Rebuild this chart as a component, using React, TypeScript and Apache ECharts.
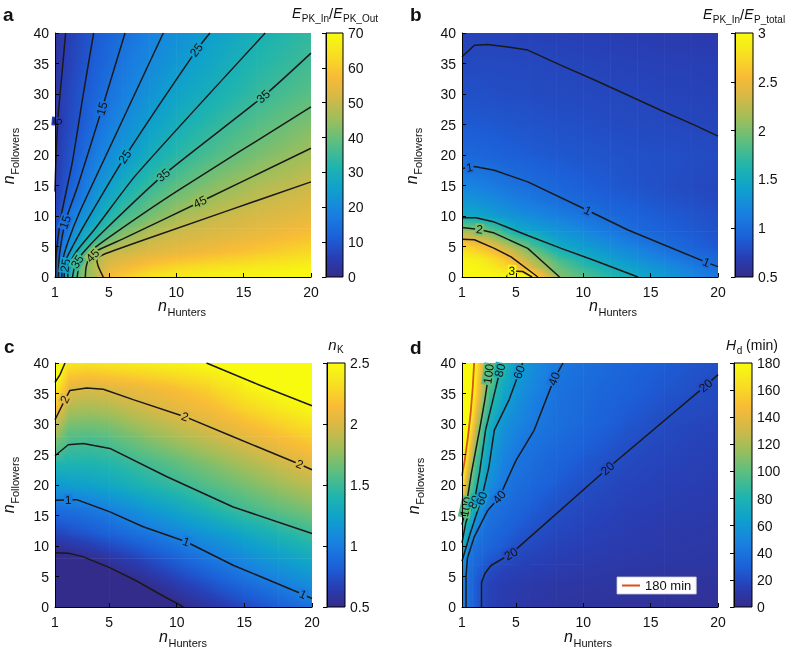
import React, { useEffect, useRef } from 'react';
import * as echarts from 'echarts';

const FF = '"Liberation Sans", Arial, Helvetica, sans-serif';

// ---------- Panel a : E_PK_In / E_PK_Out ----------
const A_X = [1, 1.5, 2, 3, 4, 5, 6, 8, 10, 13, 16, 20];
const A_Y = [0, 1, 2, 4, 6, 8, 10, 13, 16, 20, 25, 30, 35, 40];
const A_Z = [
  [9, 20, 30.7, 42.9, 47.8, 57, 60.5, 65, 66.5, 68, 69, 70],
  [8.5, 19.4, 30.4, 42, 48.3, 55.5, 57.8, 62, 64.5, 66.5, 67.5, 69],
  [8, 18.6, 28.6, 41.6, 48.8, 52.3, 55, 59, 61.5, 63.5, 65, 67.5],
  [7, 16.8, 23.9, 34, 45.4, 50.1, 51, 53, 55, 57.5, 60, 63],
  [6.8, 15, 20, 28.2, 35.3, 41.3, 45.6, 50.4, 51.9, 54.3, 56.5, 60],
  [6.5, 11.2, 17.4, 24.6, 30, 35.5, 40, 45.9, 49.8, 51.7, 53.7, 57],
  [6, 10.4, 16, 21.7, 26.1, 31.5, 35.6, 41.3, 45.5, 50.1, 52, 54.5],
  [5.2, 8.3, 11.9, 16.9, 23.2, 27.4, 31.2, 36.9, 41.6, 45.5, 49.2, 52],
  [4.9, 7.4, 9.9, 15.3, 20.2, 24.2, 27.5, 33.2, 37.3, 42.4, 45.9, 49.6],
  [4.3, 6.6, 8.6, 13, 17.3, 20.7, 23.4, 28.8, 32.8, 37.7, 41.6, 46.2],
  [3.5, 5.8, 7.4, 10.5, 14.6, 17.6, 20.4, 25.1, 29.2, 33.8, 37.9, 42.4],
  [2.8, 5.5, 6.8, 9.8, 12.6, 15.4, 17.8, 22.3, 26.1, 30.2, 34.2, 38.5],
  [2.3, 4.6, 6.1, 8.7, 11.3, 13.7, 16.2, 20, 23.6, 27.9, 32.1, 35.8],
  [2, 4.2, 5.5, 7.9, 10.3, 12.4, 14.6, 18.3, 21.4, 25.6, 29.9, 34],
];
const A_C5 = [[1.79, 40], [1.5, 33], [1.2, 25.5], [1.05, 18], [1.0, 14]];
const A_C10 = [[3.87, 40], [3.1, 30], [2.3, 19], [1.5, 10.5], [1.2, 6], [1.08, 3], [1.05, 0]];
const A_C15 = [[6.2, 40], [4.49, 27.6], [2.7, 15], [1.75, 9], [1.45, 5.5], [1.3, 3], [1.25, 0]];
const A_C20 = [[9.04, 40], [4.8, 20], [2.8, 10.5], [2.0, 6], [1.6, 3], [1.5, 0]];
const A_C25 = [[12.5, 40], [11.5, 37.2], [6.19, 19.7], [3.3, 9], [2.3, 5], [1.85, 3], [1.7, 1], [1.68, 0]];
const A_C30 = [[16.6, 40], [7.0, 16.7], [4.0, 8], [2.7, 4.5], [2.15, 2.5], [1.97, 1], [1.95, 0]];
const A_C35 = [[20, 36.7], [16.46, 29.6], [9.04, 16.7], [4.6, 7.5], [3.1, 4], [2.5, 2], [2.3, 0]];
const A_C40 = [[20, 27.9], [10, 14], [5, 6.5], [3.3, 3.6], [2.8, 2], [2.65, 0]];
const A_C45 = [[20, 21.1], [11.76, 12.3], [6, 6.2], [4.0, 4.2], [3.55, 3.2], [3.3, 1.5], [3.25, 0]];
const A_C50 = [[20, 15.6], [8, 6.4], [4.6, 3.7], [4.1, 3.0], [4.2, 1.8], [4.58, 0]];
const A_LABELS = [
  [1.2, 25.5, 5], [4.49, 27.6, 15], [1.75, 9, 15], [6.19, 19.7, 25], [11.5, 37.2, 25],
  [1.77, 1.9, 25], [9.04, 16.7, 35], [16.46, 29.6, 35], [2.65, 2.5, 35], [11.76, 12.3, 45], [3.8, 3.5, 45],
];

// ---------- Panel b : E_PK_In / E_P_total ----------
const B_X = [1, 2, 3, 4, 5, 6, 8, 10, 12, 14, 16, 18, 20];
const B_Y = [0, 1.5, 3, 5, 7.5, 10, 12.5, 15, 20, 25, 30, 35, 40];
const B_Z = [
  [2.95, 2.98, 2.98, 2.97, 3.05, 3.01, 2.07, 1.85, 1.68, 1.5, 1.36, 1.22, 1.08],
  [2.97, 2.96, 2.9, 2.8, 2.65, 2.43, 1.95, 1.74, 1.53, 1.39, 1.27, 1.14, 1.02],
  [2.93, 2.9, 2.8, 2.65, 2.45, 2.19, 1.83, 1.56, 1.4, 1.28, 1.15, 1.03, 0.96],
  [2.75, 2.62, 2.51, 2.32, 2.12, 1.91, 1.5, 1.38, 1.26, 1.14, 1.02, 0.93, 0.86],
  [2.16, 2.08, 1.97, 1.74, 1.52, 1.45, 1.33, 1.21, 1.09, 0.98, 0.92, 0.87, 0.82],
  [1.48, 1.47, 1.39, 1.34, 1.29, 1.24, 1.15, 1.06, 0.98, 0.93, 0.88, 0.84, 0.8],
  [1.32, 1.3, 1.25, 1.19, 1.14, 1.1, 1.02, 0.96, 0.91, 0.87, 0.83, 0.8, 0.77],
  [1.18, 1.16, 1.12, 1.08, 1.04, 1.01, 0.95, 0.9, 0.86, 0.83, 0.8, 0.77, 0.75],
  [0.97, 0.96, 0.94, 0.92, 0.9, 0.88, 0.86, 0.84, 0.83, 0.81, 0.8, 0.79, 0.78],
  [0.87, 0.87, 0.86, 0.85, 0.84, 0.83, 0.81, 0.8, 0.78, 0.77, 0.76, 0.75, 0.74],
  [0.81, 0.81, 0.8, 0.79, 0.79, 0.78, 0.77, 0.76, 0.755, 0.75, 0.74, 0.73, 0.72],
  [0.765, 0.77, 0.77, 0.765, 0.76, 0.76, 0.75, 0.74, 0.73, 0.72, 0.71, 0.705, 0.7],
  [0.72, 0.73, 0.73, 0.73, 0.72, 0.72, 0.71, 0.7, 0.69, 0.68, 0.67, 0.665, 0.66],
];
const B_C075 = [[1, 36.1], [1.92, 38], [2.91, 38.1], [4.39, 37.7], [5.88, 37.2], [8.36, 34.7], [10.84, 32.3], [13.32, 29.8], [15.79, 27.3], [18.27, 24.9], [20, 23.1]];
const B_C1 = [[1, 17.8], [1.92, 18.1], [3.4, 17.5], [5.88, 15.6], [10.34, 10.9], [13.32, 7.7], [19.14, 2.4], [20, 1.7]];
const B_C15 = [[1, 9.7], [2.04, 9.7], [3.4, 9.0], [5.88, 6.8], [8.36, 4.7], [10.84, 2.7], [14.06, 0]];
const B_C2 = [[1, 8.1], [2.29, 7.8], [3.4, 7.2], [5.88, 4.7], [8.24, 0]];
const B_C25 = [[1, 6.2], [1.92, 6.1], [3.4, 4.7], [4.64, 3.3], [6.63, 0]];
const B_C3 = [[4.3, 0], [4.6, 1.0], [5.5, 0.9], [6.2, 0]];
const B_LABELS = [[1.55, 17.95, 1], [10.34, 10.9, 1], [19.14, 2.4, 1], [2.29, 7.8, 2], [4.7, 1.0, 3]];

// ---------- Panel c : n_K ----------
const C_X = [1, 2, 3.5, 5, 7.5, 10, 12.5, 15, 17.5, 20];
const C_Y = [0, 4, 8, 12, 16, 20, 24, 28, 32, 36, 40];
const C_Z = [
  [0.1, 0.12, 0.18, 0.25, 0.36, 0.48, 0.59, 0.7, 0.82, 0.93],
  [0.26, 0.29, 0.35, 0.41, 0.51, 0.65, 0.77, 0.9, 1.01, 1.12],
  [0.45, 0.47, 0.51, 0.585, 0.71, 0.84, 0.97, 1.09, 1.2, 1.31],
  [0.68, 0.72, 0.78, 0.84, 0.94, 1.05, 1.16, 1.27, 1.39, 1.5],
  [0.91, 0.93, 0.96, 1.02, 1.15, 1.27, 1.4, 1.52, 1.61, 1.7],
  [1.17, 1.2, 1.24, 1.28, 1.39, 1.48, 1.58, 1.68, 1.79, 1.89],
  [1.45, 1.42, 1.41, 1.44, 1.53, 1.63, 1.74, 1.85, 1.96, 2.07],
  [1.77, 1.58, 1.57, 1.6, 1.73, 1.84, 1.94, 2.04, 2.15, 2.26],
  [2.11, 1.81, 1.79, 1.82, 1.93, 2.02, 2.11, 2.24, 2.35, 2.45],
  [2.47, 2.04, 2.0, 2.03, 2.1, 2.17, 2.27, 2.43, 2.53, 2.6],
  [2.65, 2.38, 2.35, 2.38, 2.42, 2.45, 2.51, 2.58, 2.64, 2.7],
];
const C_C05 = [[1, 8.9], [2, 8.8], [3, 8.3], [5, 6.5], [7, 4.3], [9, 1.8], [10.5, 0]];
const C_C1 = [[1, 17.5], [2.6, 17.6], [5.06, 15.6], [7.52, 13.15], [10.7, 10.7], [14.17, 6.85], [19.09, 2.3], [20, 1.4]];
const C_C15 = [[1, 24.8], [1.98, 26.6], [3.09, 26.8], [5.06, 26], [9.24, 21.4], [14.17, 16.4], [20, 12.05]];
const C_C2 = [[1, 30.7], [1.74, 34], [2.1, 35.5], [3.34, 35.9], [4.57, 35.7], [6.78, 34], [10.6, 31.2], [14.17, 27.9], [19.09, 23.4], [20, 22.5]];
const C_C25A = [[1, 36.8], [1.37, 38.1], [1.74, 40]];
const C_C25B = [[12.2, 40], [16.1, 36.4], [20, 33]];
const C_LABELS = [[1.74, 34, 2], [10.6, 31.2, 2], [19.09, 23.4, 2], [1.98, 17.55, 1], [10.7, 10.7, 1], [19.33, 2.06, 1]];

// ---------- Panel d : H_d (min) ----------
const D_X = [1, 1.25, 1.5, 1.75, 2, 2.5, 3, 4, 5, 6, 8, 10, 13, 16, 20];
const D_Y = [0, 4, 7, 10, 13, 16, 20, 25, 30, 35, 40];
const D_Z = [
  [48, 41, 36.5, 32, 27.5, 19.3, 15.5, 12.5, 10.5, 9, 7.5, 6.5, 5.5, 5, 4.5],
  [50, 41.5, 36.5, 32, 27.8, 19.6, 16.5, 13.5, 12, 11, 9.5, 8.5, 7.5, 7, 6.5],
  [58, 46, 38.7, 36.1, 33.5, 28.3, 23.1, 18.5, 16.5, 15, 13, 11.5, 10, 9, 8],
  [78, 64, 50.6, 39.7, 38.3, 35.5, 32.7, 27.2, 21.7, 19, 16, 14, 12, 10.5, 9.5],
  [97, 78.5, 69.6, 60, 50.2, 39, 36.8, 32.4, 28, 23.6, 19, 16.5, 13.5, 11.5, 10],
  [125, 100.5, 88.6, 77.3, 67.7, 52.3, 39.9, 36.2, 32.5, 28.8, 21.4, 18.5, 15, 13, 11],
  [170, 139, 107.5, 93.4, 84.8, 66.7, 55.7, 42.4, 37.4, 34.1, 27.7, 21.3, 17.5, 15, 12.5],
  [195, 181, 153, 124, 99.5, 79.6, 64, 51.9, 41.7, 38.1, 32.9, 27.8, 20, 17.5, 14.5],
  [200, 194, 183, 160, 135, 94, 76.1, 57.4, 50.7, 44, 37.6, 33.8, 25.9, 19.6, 16.5],
  [192, 190, 187, 182, 165.5, 123, 92.8, 70.6, 57.5, 50.1, 38.8, 35.2, 29.8, 24.3, 19],
  [195, 193, 190, 185, 173.3, 140, 106.7, 79.4, 66.5, 57.1, 43.3, 37.6, 32.8, 28, 21.6],
];
const D_C180 = [[1, 21.5], [1.2, 24], [1.45, 28], [1.65, 32], [1.8, 36], [1.9, 40]];
const D_C100 = [[1, 13.5], [1.3, 16.4], [1.7, 22], [2.3, 29], [2.7, 34], [3.1, 40]];
const D_C80 = [[1, 10.5], [1.3, 14], [1.91, 17.2], [2.3, 22], [2.75, 29], [3.3, 34], [3.95, 40]];
const D_C60 = [[1, 7.5], [1.6, 12], [2.46, 17.8], [3.0, 23], [3.4, 29], [4.5, 34], [5.5, 40]];
const D_C40 = [[1.3, 0], [1.3, 5], [1.4, 8], [1.91, 11.5], [2.9, 15.8], [3.77, 18], [5.0, 24], [6.36, 29], [7.84, 37.4], [8.5, 40]];
const D_C20 = [[2.45, 0], [2.45, 4], [2.7, 5.5], [3.15, 6.8], [4.63, 8.7], [11.8, 22.7], [19.09, 36.3], [20, 38.1]];
const D_LABELS = [
  [2.98, 38.2, 100], [3.82, 38.8, 80], [5.25, 38.5, 60], [7.84, 37.4, 40], [19.09, 36.3, 20],
  [1.3, 16.4, 100], [1.91, 17.2, 80], [2.46, 17.8, 60], [3.77, 18, 40], [4.63, 8.7, 20], [11.8, 22.7, 20],
];

const X_TICKS = [1, 5, 10, 15, 20];

// colormap stops [position, r, g, b]
const CMAP: number[][] = [
  [0.0, 52, 44, 138],
  [0.08, 40, 62, 180],
  [0.16, 28, 95, 215],
  [0.26, 25, 128, 225],
  [0.36, 15, 160, 205],
  [0.45, 30, 180, 175],
  [0.55, 90, 190, 130],
  [0.65, 160, 190, 90],
  [0.74, 215, 185, 70],
  [0.82, 248, 187, 55],
  [0.9, 248, 218, 36],
  [0.95, 246, 236, 26],
  [1.0, 249, 251, 14],
];

function parula(t: number) {
  const tt = Math.max(0, Math.min(1, t));
  let i = 0;
  while (i < CMAP.length - 2 && tt > CMAP[i + 1][0]) i++;
  const a = CMAP[i], b = CMAP[i + 1];
  const f = (tt - a[0]) / (b[0] - a[0]);
  const c = [1, 2, 3].map((k) => Math.round(a[k] + (b[k] - a[k]) * f));
  return `rgb(${c[0]},${c[1]},${c[2]})`;
}

type Contour = { level: number; pts: number[][]; red?: boolean };

const PANELS = [
  {
    xs: A_X, ys: A_Y, z: A_Z, min: 0, max: 70, interval: 10, smooth: 0.2,
    contours: [
      { level: 5, pts: A_C5 }, { level: 10, pts: A_C10 }, { level: 15, pts: A_C15 }, { level: 20, pts: A_C20 },
      { level: 25, pts: A_C25 }, { level: 30, pts: A_C30 }, { level: 35, pts: A_C35 }, { level: 40, pts: A_C40 },
      { level: 45, pts: A_C45 }, { level: 50, pts: A_C50 },
    ] as Contour[],
    labels: A_LABELS,
    plot: { left: 55, top: 33, width: 256, height: 244 },
    cb: { left: 326, top: 33, width: 17, height: 244 },
  },
  {
    xs: B_X, ys: B_Y, z: B_Z, min: 0.5, max: 3, interval: 0.5, smooth: false,
    contours: [
      { level: 0.75, pts: B_C075 }, { level: 1, pts: B_C1 }, { level: 1.5, pts: B_C15 },
      { level: 2, pts: B_C2 }, { level: 2.5, pts: B_C25 }, { level: 3, pts: B_C3 },
    ] as Contour[],
    labels: B_LABELS,
    plot: { left: 462, top: 33, width: 256, height: 244 },
    cb: { left: 735, top: 33, width: 18, height: 244 },
  },
  {
    xs: C_X, ys: C_Y, z: C_Z, min: 0.5, max: 2.5, interval: 0.5, smooth: false,
    contours: [
      { level: 0.5, pts: C_C05 }, { level: 1, pts: C_C1 }, { level: 1.5, pts: C_C15 },
      { level: 2, pts: C_C2 }, { level: 2.5, pts: C_C25A }, { level: 2.5, pts: C_C25B },
    ] as Contour[],
    labels: C_LABELS,
    plot: { left: 55, top: 363, width: 257, height: 244 },
    cb: { left: 327, top: 363, width: 18, height: 244 },
  },
  {
    xs: D_X, ys: D_Y, z: D_Z, min: 0, max: 180, interval: 20, smooth: false,
    contours: [
      { level: 180, pts: D_C180, red: true }, { level: 100, pts: D_C100 }, { level: 80, pts: D_C80 },
      { level: 60, pts: D_C60 }, { level: 40, pts: D_C40 }, { level: 20, pts: D_C20 },
    ] as Contour[],
    labels: D_LABELS,
    plot: { left: 462, top: 363, width: 256, height: 244 },
    cb: { left: 734, top: 363, width: 18, height: 244 },
  },
];

function buildCells(xs: number[], ys: number[], z: number[][]) {
  const cells: number[][] = [];
  for (let j = 0; j < ys.length - 1; j++) {
    for (let i = 0; i < xs.length - 1; i++) {
      cells.push([xs[i], xs[i + 1], ys[j], ys[j + 1], z[j][i], z[j][i + 1], z[j + 1][i], z[j + 1][i + 1]]);
    }
  }
  return cells;
}

function cellRenderer(min: number, max: number) {
  const norm = (v: number) => (v - min) / (max - min);
  return (params: any, api: any) => {
    const x0 = api.value(0), x1 = api.value(1), y0 = api.value(2), y1 = api.value(3);
    const bl = api.value(4), br = api.value(5), tl = api.value(6), tr = api.value(7);
    const p0 = api.coord([x0, y1]);
    const p1 = api.coord([x1, y0]);
    const gu = (tr - tl + (br - bl)) / 2;
    const gv = (bl - tl + (br - tr)) / 2;
    const m = (tl + tr + bl + br) / 4;
    const g = Math.hypot(gu, gv);
    let fill: any;
    if (g < 1e-9) {
      fill = parula(norm(m));
    } else {
      const du = gu / g, dv = gv / g;
      const half = (Math.abs(gu) + Math.abs(gv)) / 2;
      const hh = half / g;
      const vs = m - half, ve = m + half;
      const stops = [];
      for (let k = 0; k <= 6; k++) {
        const t = k / 6;
        stops.push({ offset: t, color: parula(norm(vs + (ve - vs) * t)) });
      }
      fill = new echarts.graphic.LinearGradient(0.5 - du * hh, 0.5 - dv * hh, 0.5 + du * hh, 0.5 + dv * hh, stops, false);
    }
    return {
      type: 'rect',
      shape: { x: p0[0], y: p0[1], width: p1[0] - p0[0] + 0.6, height: p1[1] - p0[1] + 0.6 },
      style: { fill },
    };
  };
}

function labelRenderer(labels: number[][], contours: Contour[], min: number, max: number) {
  return (params: any, api: any) => {
    const L = labels[api.value(2)];
    const p = api.coord([L[0], L[1]]);
    let best = Infinity;
    let ang = 0;
    contours.filter((c) => c.level === L[2]).forEach((c) => {
      const pts = c.pts.map((q) => api.coord(q));
      for (let i = 0; i < pts.length - 1; i++) {
        const a = pts[i], b = pts[i + 1];
        const dx = b[0] - a[0], dy = b[1] - a[1];
        const len2 = dx * dx + dy * dy || 1;
        let t = ((p[0] - a[0]) * dx + (p[1] - a[1]) * dy) / len2;
        t = Math.max(0, Math.min(1, t));
        const d = Math.hypot(a[0] + t * dx - p[0], a[1] + t * dy - p[1]);
        if (d < best) {
          best = d;
          ang = Math.atan2(-dy, dx);
        }
      }
    });
    if (ang > Math.PI / 2 + 1e-6) ang -= Math.PI;
    if (ang < -Math.PI / 2 + 1e-3) ang += Math.PI;
    return {
      type: 'text',
      x: p[0],
      y: p[1],
      rotation: ang,
      style: {
        text: String(L[2]),
        font: `12px ${FF}`,
        fill: '#111',
        align: 'center',
        verticalAlign: 'middle',
        backgroundColor: parula((L[2] - min) / (max - min)),
        padding: [0, 1],
      },
    };
  };
}

function cbRenderer(min: number, max: number) {
  return (params: any, api: any) => {
    const p0 = api.coord([0, max]);
    const p1 = api.coord([1, min]);
    const stops = CMAP.slice().reverse().map((c) => ({ offset: 1 - c[0], color: `rgb(${c[1]},${c[2]},${c[3]})` }));
    return {
      type: 'rect',
      shape: { x: p0[0], y: p0[1], width: p1[0] - p0[0], height: p1[1] - p0[1] },
      style: { fill: new echarts.graphic.LinearGradient(0, 0, 0, 1, stops, false), stroke: '#000', lineWidth: 1 },
    };
  };
}

let measureCtx: CanvasRenderingContext2D | null = null;
function measure(text: string, font: string) {
  if (!measureCtx) measureCtx = document.createElement('canvas').getContext('2d');
  if (!measureCtx) return text.length * 7;
  measureCtx.font = font;
  return measureCtx.measureText(text).width;
}

type Seg = { t: string; s: number; i?: boolean; b?: boolean; dy?: number };
function mathText(x: number, y: number, segs: Seg[], align: string, rotation = 0) {
  const fonts = segs.map((g) => `${g.i ? 'italic ' : ''}${g.b ? 'bold ' : ''}${g.s}px ${FF}`);
  const widths = segs.map((g, k) => measure(g.t, fonts[k]) + (g.i ? 0.5 : 0));
  const total = widths.reduce((a, b) => a + b, 0);
  let cur = align === 'center' ? -total / 2 : align === 'right' ? -total : 0;
  const children = segs.map((g, k) => {
    const el = {
      type: 'text',
      x: cur,
      y: g.dy || 0,
      style: { text: g.t, font: fonts[k], fill: '#111', align: 'left', verticalAlign: 'middle' },
    };
    cur += widths[k];
    return el;
  });
  return { type: 'group', x, y, rotation, children };
}

export default function App() {
  const ref = useRef<HTMLDivElement>(null);
  useEffect(() => {
    if (!ref.current) return;
    const chart = echarts.init(ref.current, undefined, { renderer: 'svg' });
    const grid: any[] = [];
    const xAxis: any[] = [];
    const yAxis: any[] = [];
    const series: any[] = [];
    PANELS.forEach((P, k) => {
      const gi = k * 2;
      grid.push({ ...P.plot, containLabel: false });
      grid.push({ ...P.cb, containLabel: false });
      xAxis.push({
        type: 'value', gridIndex: gi, min: 1, max: 20, z: 10,
        axisLine: { show: true, onZero: false, lineStyle: { color: '#000', width: 1 } },
        axisTick: { show: true, inside: true, length: 4, customValues: X_TICKS, lineStyle: { color: '#000' } },
        axisLabel: { customValues: X_TICKS, fontSize: 14, color: '#111', margin: 8, fontFamily: FF },
        splitLine: { show: false },
      });
      yAxis.push({
        type: 'value', gridIndex: gi, min: 0, max: 40, interval: 5, z: 10,
        axisLine: { show: true, onZero: false, lineStyle: { color: '#000', width: 1 } },
        axisTick: { show: true, inside: true, length: 4, lineStyle: { color: '#000' } },
        axisLabel: { fontSize: 14, color: '#111', margin: 6, fontFamily: FF },
        splitLine: { show: false },
      });
      xAxis.push({ type: 'value', gridIndex: gi + 1, min: 0, max: 1, show: false });
      yAxis.push({
        type: 'value', gridIndex: gi + 1, min: P.min, max: P.max, interval: P.interval, position: 'right', z: 10,
        axisLine: { show: true, lineStyle: { color: '#000', width: 1 } },
        axisTick: { show: true, inside: true, length: 4, lineStyle: { color: '#000' } },
        axisLabel: { fontSize: 14, color: '#111', margin: 5, fontFamily: FF },
        splitLine: { show: false },
      });
      series.push({
        type: 'custom', name: `field${k}`, xAxisIndex: gi, yAxisIndex: gi, z: 1, clip: true, silent: true,
        encode: { x: [0, 1], y: [2, 3] },
        renderItem: cellRenderer(P.min, P.max),
        data: buildCells(P.xs, P.ys, P.z),
      });
      P.contours.forEach((c, ci) => {
        series.push({
          type: 'line', name: c.red ? '180 min' : `c${k}_${ci}`, xAxisIndex: gi, yAxisIndex: gi, z: 3,
          data: c.pts, showSymbol: false, symbol: 'none', smooth: P.smooth, silent: true, clip: true,
          lineStyle: { color: c.red ? '#d95319' : '#1a1a1a', width: c.red ? 1.8 : 1.5 },
          itemStyle: { color: c.red ? '#d95319' : '#1a1a1a' },
        });
      });
      series.push({
        type: 'custom', name: `labels${k}`, xAxisIndex: gi, yAxisIndex: gi, z: 4, silent: true,
        encode: { x: 0, y: 1 },
        renderItem: labelRenderer(P.labels, P.contours, P.min, P.max),
        data: P.labels.map((l, i) => [l[0], l[1], i]),
      });
      series.push({
        type: 'custom', name: `cb${k}`, xAxisIndex: gi + 1, yAxisIndex: gi + 1, z: 1, silent: true,
        renderItem: cbRenderer(P.min, P.max),
        data: [[0.5, (P.min + P.max) / 2]],
      });
    });

    const graphic = [
      mathText(3, 14, [{ t: 'a', s: 19, b: true }], 'left'),
      mathText(410, 14, [{ t: 'b', s: 19, b: true }], 'left'),
      mathText(4, 346, [{ t: 'c', s: 19, b: true }], 'left'),
      mathText(410, 347, [{ t: 'd', s: 19, b: true }], 'left'),
      mathText(335, 13, [{ t: 'E', s: 14, i: true }, { t: 'PK_In', s: 10, dy: 5 }, { t: '/', s: 15 }, { t: 'E', s: 14, i: true }, { t: 'PK_Out', s: 10, dy: 5 }], 'center'),
      mathText(744, 14, [{ t: 'E', s: 14, i: true }, { t: 'PK_In', s: 10, dy: 5 }, { t: '/', s: 15 }, { t: 'E', s: 14, i: true }, { t: 'P_total', s: 10, dy: 5 }], 'center'),
      mathText(336, 344, [{ t: 'n', s: 15, i: true }, { t: 'K', s: 10, dy: 5 }], 'center'),
      mathText(752, 345, [{ t: 'H', s: 14, i: true }, { t: 'd', s: 10, dy: 5 }, { t: ' (min)', s: 14 }], 'center'),
      mathText(182, 305, [{ t: 'n', s: 16, i: true }, { t: 'Hunters', s: 11, dy: 7 }], 'center'),
      mathText(613, 305, [{ t: 'n', s: 16, i: true }, { t: 'Hunters', s: 11, dy: 7 }], 'center'),
      mathText(183, 636, [{ t: 'n', s: 16, i: true }, { t: 'Hunters', s: 11, dy: 7 }], 'center'),
      mathText(588, 636, [{ t: 'n', s: 16, i: true }, { t: 'Hunters', s: 11, dy: 7 }], 'center'),
      mathText(8, 156, [{ t: 'n', s: 16, i: true }, { t: 'Followers', s: 11, dy: 7 }], 'center', Math.PI / 2),
      mathText(411, 156, [{ t: 'n', s: 16, i: true }, { t: 'Followers', s: 11, dy: 7 }], 'center', Math.PI / 2),
      mathText(8, 485, [{ t: 'n', s: 16, i: true }, { t: 'Followers', s: 11, dy: 7 }], 'center', Math.PI / 2),
      mathText(413, 486, [{ t: 'n', s: 16, i: true }, { t: 'Followers', s: 11, dy: 7 }], 'center', Math.PI / 2),
    ];

    chart.setOption({
      animation: false,
      grid,
      xAxis,
      yAxis,
      series,
      graphic,
      legend: {
        show: true,
        data: [{ name: '180 min', icon: 'rect' }],
        left: 617,
        top: 577,
        itemWidth: 18,
        itemHeight: 2,
        itemGap: 4,
        backgroundColor: '#fff',
        borderColor: '#c8c8c8',
        borderWidth: 0.8,
        padding: [2, 5],
        selectedMode: false,
        textStyle: { fontSize: 13, fontFamily: FF, color: '#111' },
      },
    });
    return () => chart.dispose();
  }, []);
  return <div ref={ref} style={{ position: 'fixed', left: 0, top: 0, width: 788, height: 651 }} />;
}
